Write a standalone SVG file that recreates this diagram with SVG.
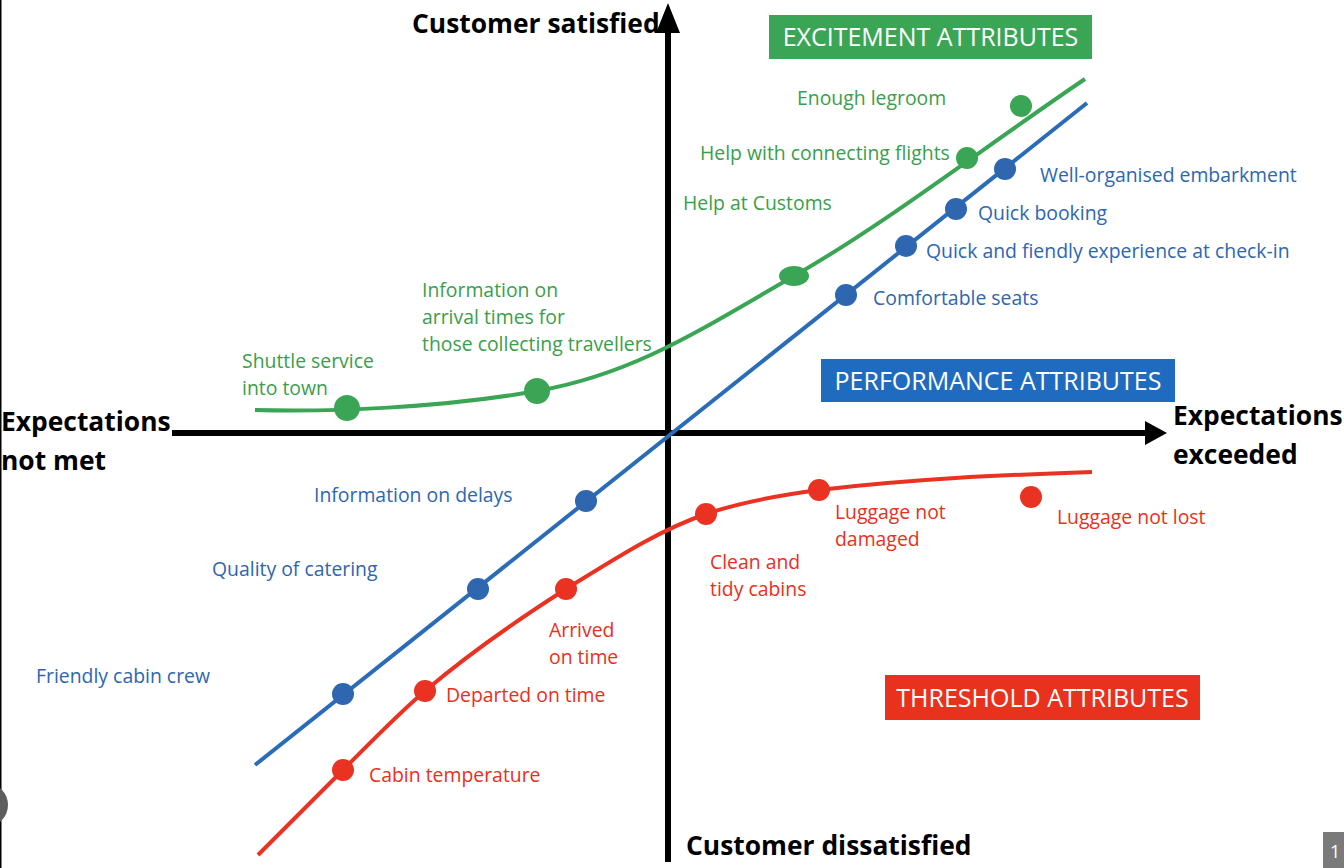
<svg xmlns="http://www.w3.org/2000/svg" width="1344" height="868" viewBox="0 0 1344 868">
<style>
.lbl{font-family:"Open Sans","Liberation Sans",sans-serif;font-size:19.4px}
.g{fill:#3a9e4a}.b{fill:#2e66b0}.r{fill:#e8301c}
.ax{font-family:"Open Sans","Liberation Sans",sans-serif;font-size:26.4px;font-weight:bold;fill:#000}
.box{font-family:"Open Sans","Liberation Sans",sans-serif;font-size:25px;fill:#fff}
</style>
<rect width="1344" height="868" fill="#fff"/>
<rect x="0" y="0" width="1.5" height="868" fill="#000"/>
<circle cx="-14" cy="805" r="22" fill="#5e5e5e"/>
<g id="axes">
<line x1="172" y1="433" x2="1148" y2="433" stroke="#000" stroke-width="6"/>
<polygon points="1145,421 1167,433 1145,445" fill="#000"/>
<line x1="668" y1="862" x2="668" y2="30" stroke="#000" stroke-width="6"/>
<polygon points="656,33 668,3 680,33" fill="#000"/>
</g>
<g id="connectors" fill="none" stroke-width="4">
<path d="M255,410 C330,412 440,408 537,391 S700,330 794,276 S980,150 1085,79" stroke="#3aa655"/>
<line x1="255" y1="765" x2="1087" y2="103" stroke="#2b6cb8"/>
<path d="M258,855 C286,827 315,798 343,770 C370,743 398,714 425,691 C472,651 519,619 566,589 C613,560 659,530 706,514 C744,501 781,495 819,490 C910,479 1001,475 1092,472" stroke="#ea3223"/>
</g>
<g id="excitement-dots" fill="#3aa655">
<circle cx="347" cy="408" r="13"/>
<circle cx="537" cy="391" r="13"/>
<ellipse cx="794" cy="276" rx="15" ry="10"/>
<circle cx="967" cy="158" r="11"/>
<circle cx="1021" cy="106" r="11"/>
</g>
<g id="performance-dots" fill="#2e66b0">
<circle cx="343" cy="694" r="11"/>
<circle cx="478" cy="589" r="11"/>
<circle cx="586" cy="501" r="11"/>
<circle cx="846" cy="295" r="11"/>
<circle cx="906" cy="246" r="11"/>
<circle cx="956" cy="209" r="11"/>
<circle cx="1005" cy="169" r="11"/>
</g>
<g id="threshold-dots" fill="#ea3223">
<circle cx="343" cy="770" r="11"/>
<circle cx="425" cy="691" r="11"/>
<circle cx="566" cy="589" r="11"/>
<circle cx="706" cy="514" r="11"/>
<circle cx="819" cy="490" r="11"/>
<circle cx="1031" cy="497" r="11"/>
</g>
<g id="axis-labels">
<text class="ax" x="412" y="33">Customer satisfied</text>
<text class="ax" x="1" y="431">Expectations</text>
<text class="ax" x="1" y="470">not met</text>
<text class="ax" x="1173" y="425">Expectations</text>
<text class="ax" x="1173" y="464">exceeded</text>
<text class="ax" x="686" y="855">Customer dissatisfied</text>
</g>
<g id="excitement-box">
<rect x="769" y="15" width="323" height="44" fill="#3aa655"/>
<text class="box" x="930.5" y="45.5" text-anchor="middle">EXCITEMENT ATTRIBUTES</text>
</g>
<g id="performance-box">
<rect x="821" y="359" width="354" height="43" fill="#1f6bbf"/>
<text class="box" x="998" y="389.5" text-anchor="middle">PERFORMANCE ATTRIBUTES</text>
</g>
<g id="threshold-box">
<rect x="885" y="675" width="315" height="45" fill="#e8321e"/>
<text class="box" x="1042.5" y="706.5" text-anchor="middle">THRESHOLD ATTRIBUTES</text>
</g>
<g id="excitement-labels" class="lbl g">
<text x="797" y="105">Enough legroom</text>
<text x="700" y="160">Help with connecting flights</text>
<text x="683" y="210">Help at Customs</text>
<text x="422" y="297">Information on</text>
<text x="422" y="324">arrival times for</text>
<text x="422" y="351">those collecting travellers</text>
<text x="242" y="368">Shuttle service</text>
<text x="242" y="395">into town</text>
</g>
<g id="performance-labels" class="lbl b">
<text x="1040" y="182">Well-organised embarkment</text>
<text x="978" y="220">Quick booking</text>
<text x="926" y="258">Quick and fiendly experience at check-in</text>
<text x="873" y="305">Comfortable seats</text>
<text x="314" y="502">Information on delays</text>
<text x="212" y="576">Quality of catering</text>
<text x="36" y="683">Friendly cabin crew</text>
</g>
<g id="threshold-labels" class="lbl r">
<text x="835" y="519">Luggage not</text>
<text x="835" y="546">damaged</text>
<text x="1057" y="524">Luggage not lost</text>
<text x="710" y="569">Clean and</text>
<text x="710" y="596">tidy cabins</text>
<text x="549" y="637">Arrived</text>
<text x="549" y="664">on time</text>
<text x="446" y="702">Departed on time</text>
<text x="369" y="782">Cabin temperature</text>
</g>
<g id="page-number">
<rect x="1323" y="832" width="21" height="36" fill="#7a7a7a"/>
<text x="1330" y="858" font-family="Open Sans, sans-serif" font-size="18" fill="#fff">1</text>
</g>
</svg>
